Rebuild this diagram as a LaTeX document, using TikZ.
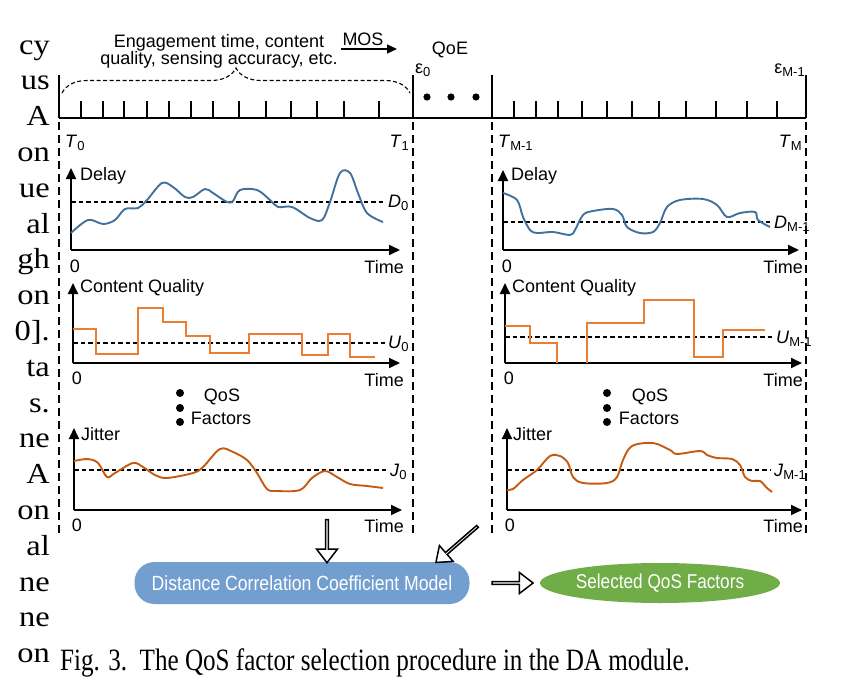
\documentclass[tikz,border=0pt]{standalone}
\usepackage{fontspec}
\setmainfont{Liberation Serif}
\newfontfamily\figfont{Liberation Sans}
\newfontfamily\narrowfont[FakeStretch=0.86]{Liberation Sans}
\newfontfamily\capfont[FakeStretch=0.81]{Liberation Serif}
\newfontfamily\bodyfont[FakeStretch=1.12]{Liberation Serif}
\usetikzlibrary{arrows.meta,positioning,shapes.arrows,shapes.geometric,decorations.pathreplacing}

\definecolor{delayblue}{RGB}{65,113,156}
\definecolor{cqorange}{RGB}{237,125,49}
\definecolor{jitorange}{RGB}{197,90,17}
\definecolor{boxblue}{RGB}{114,159,207}
\definecolor{selgreen}{RGB}{112,173,71}

\newcommand{\lsub}[1]{\raisebox{-0.35ex}{\fontsize{13}{13}\selectfont #1}}

\tikzset{
  lbl/.style={font=\figfont\fontsize{18}{20}\selectfont, inner sep=1pt},
  axis/.style={line width=1.8pt, -{Triangle[length=11pt,width=10pt]}},
  thres/.style={line width=1.8pt, dash pattern=on 4.5pt off 3pt},
  sep/.style={line width=1.8pt, dash pattern=on 8pt off 5pt},
  tick/.style={line width=1.6pt},
  bar/.style={line width=2.6pt},
  curve/.style={line width=1.9pt, smooth, tension=0.55},
  hollow/.style={single arrow, draw, line width=1.5pt, fill=white, inner sep=0pt,
    minimum width=21pt, single arrow head extend=5.5pt, single arrow tip angle=75,
    sloped, allow upside down},
}

\begin{document}
\begin{tikzpicture}[x=1pt,y=-1pt]
\useasboundingbox (0,0) rectangle (863,696);
	%Zeitachse oben
	\draw[bar] (59,118) -- (806,118);
	\foreach \x in {59,413,492,806} \draw[bar] (\x,75) -- (\x,118);
	\foreach \x in {81,103,124,147,169,191,213,239,266,291,317,344,379} \draw[tick] (\x,101) -- (\x,118);
	\foreach \x in {514,536,558,582,607,632,659,686,716,747,777} \draw[tick] (\x,101) -- (\x,118);
	\foreach \x in {427,451,476} \fill (\x,97) circle (3.6);
	\foreach \x in {59,413} \draw[sep] (\x,122) -- (\x,533);
	\foreach \x in {492,806} \draw[sep] (\x,122) -- (\x,537);
	\draw[line width=1.1pt, dash pattern=on 4pt off 2.5pt, decorate, decoration={brace,amplitude=25pt}] (62,93) -- (410,93);
	%Beschriftung oben
	\node[lbl, align=center] (eng) at (219,51) {Engagement time, content\\[-3pt]quality, sensing accuracy, etc.};
	\node[lbl] (mos) at (363,39) {MOS};
	\coordinate (mosend) at (397,49);
	\draw[line width=1.5pt, -{Triangle[length=10pt,width=9pt]}] (mos.south west |- mosend) -- (mosend);
	\node[lbl] (qoe) at (450,50) {QoE};
	\node[lbl, anchor=west] (eps0) at (414,70) {ε\lsub{0}};
	\node[lbl, anchor=east] (epsm) at (806,70) {ε\lsub{M-1}};
	\node[lbl, anchor=west] (t0) at (64,143) {\textit{T}\lsub{0}};
	\node[lbl, anchor=east] (t1) at (410,143) {\textit{T}\lsub{1}};
	\node[lbl, anchor=west] (tm1) at (497,143) {\textit{T}\lsub{M-1}};
	\node[lbl, anchor=east] (tm) at (803,143) {\textit{T}\lsub{M}};
	%linkes Fenster
	\coordinate (dl) at (71,250);
	\draw[axis] (dl) -- ++(0,-82);
	\draw[axis] (dl) -- ++(329,0);
	\draw[thres] (71,202) -- (386,202);
	\draw[curve, delayblue] plot coordinates {(71,233) (88,220) (103,224) (115,220) (125,209) (138,208) (147,200) (162,183) (173,187) (185,197) (193,197) (205,189) (213,193) (227,202) (233,201) (240,190) (257,190) (270,200) (278,207) (292,207) (310,218) (322,220) (330,202) (340,173) (350,173) (358,193) (367,213) (383,222)};
	\node[lbl, anchor=west] (dly-l) at (79,176) {Delay};
	\node[lbl] (dz-l) at (75,266) {0};
	\node[lbl, anchor=east] (dt-l) at (405,267) {Time};
	\node[lbl, anchor=west] (d0) at (387,203) {\textit{D}\lsub{0}};
	\coordinate (cl) at (73,363);
	\draw[axis] (cl) -- ++(0,-80);
	\draw[axis] (cl) -- ++(327,0);
	\draw[thres] (73,343) -- (386,343);
	\draw[line width=1.9pt, cqorange] (73,329) -- (96,329) -- (96,354) -- (138,354) -- (138,308) -- (163,308) -- (163,322) -- (186,322) -- (186,336) -- (210,336) -- (210,353) -- (249,353) -- (249,334) -- (302,334) -- (302,355) -- (328,355) -- (328,334) -- (350,334) -- (350,357) -- (375,357);
	\node[lbl, anchor=west] (cq-l) at (79,288) {Content Quality};
	\node[lbl] (cz-l) at (77,378) {0};
	\node[lbl, anchor=east] (ct-l) at (405,380) {Time};
	\node[lbl, anchor=west] (u0) at (387,344) {\textit{U}\lsub{0}};
	\foreach \y in {393,408,422} \fill (180,\y) circle (4);
	\node[lbl] (qos-l) at (222,397) {QoS};
	\node[lbl] (fac-l) at (221,418) {Factors};
	\coordinate (jl) at (74,510);
	\draw[axis] (jl) -- ++(0,-82);
	\draw[axis] (jl) -- ++(328,0);
	\draw[thres] (74,470) -- (388,470);
	\draw[curve, jitorange] plot coordinates {(74,461) (88,459) (98,463) (107,477) (115,473) (133,463) (143,467) (155,475) (167,478) (193,473) (203,467) (220,449) (233,452) (247,460) (257,473) (267,489) (277,491) (300,490) (312,478) (325,471) (337,477) (350,484) (367,486) (383,488)};
	\node[lbl, anchor=west] (jit-l) at (80,434) {Jitter};
	\node[lbl] (jz-l) at (77,525) {0};
	\node[lbl, anchor=east] (jt-l) at (405,526) {Time};
	\node[lbl, anchor=west] (j0) at (389,472) {\textit{J}\lsub{0}};
	%rechtes Fenster
	\coordinate (dr) at (503,250);
	\draw[axis] (dr) -- ++(0,-80);
	\draw[axis] (dr) -- ++(296,0);
	\draw[thres] (503,222) -- (771,222);
	\draw[curve, delayblue] plot coordinates {(503,193) (517,200) (523,217) (530,230) (537,233) (553,232) (570,235) (575,230) (583,215) (593,211) (613,209) (622,215) (627,227) (640,233) (653,232) (660,223) (667,207) (680,200) (703,199) (717,205) (727,217) (740,213) (755,212) (758,220) (770,227)};
	\node[lbl, anchor=west] (dly-r) at (510,176) {Delay};
	\node[lbl] (dz-r) at (507,266) {0};
	\node[lbl, anchor=east] (dt-r) at (804,267) {Time};
	\node[lbl, anchor=west] (dm) at (773,224) {\textit{D}\lsub{M-1}};
	\coordinate (cr) at (505,363);
	\draw[axis] (cr) -- ++(0,-80);
	\draw[axis] (cr) -- ++(297,0);
	\draw[thres] (505,337) -- (773,337);
	\draw[line width=1.9pt, cqorange] (505,326) -- (530,326) -- (530,343) -- (557,343) -- (557,363);
	\draw[line width=1.9pt, cqorange] (587,363) -- (587,323) -- (644,323) -- (644,300) -- (694,300) -- (694,357) -- (723,357) -- (723,330) -- (765,330);
	\node[lbl, anchor=west] (cq-r) at (511,288) {Content Quality};
	\node[lbl] (cz-r) at (509,378) {0};
	\node[lbl, anchor=east] (ct-r) at (804,380) {Time};
	\node[lbl, anchor=west] (um) at (775,339) {\textit{U}\lsub{M-1}};
	\foreach \y in {393,408,422} \fill (607,\y) circle (4);
	\node[lbl] (qos-r) at (650,397) {QoS};
	\node[lbl] (fac-r) at (649,418) {Factors};
	\coordinate (jr) at (507,510);
	\draw[axis] (jr) -- ++(0,-82);
	\draw[axis] (jr) -- ++(295,0);
	\draw[thres] (507,470) -- (771,470);
	\draw[curve, jitorange] plot coordinates {(507,490) (513,489) (523,480) (537,470) (550,456) (560,456) (568,463) (573,477) (583,483) (607,483) (617,477) (623,460) (632,446) (653,443) (670,450) (677,454) (700,451) (707,455) (717,458) (732,459) (740,465) (745,477) (752,481) (760,481) (767,488) (772,492)};
	\node[lbl, anchor=west] (jit-r) at (512,434) {Jitter};
	\node[lbl] (jz-r) at (510,525) {0};
	\node[lbl, anchor=east] (jt-r) at (804,526) {Time};
	\node[lbl, anchor=west] (jm) at (773,472) {\textit{J}\lsub{M-1}};
	%Modell unten
	\node[rectangle, rounded corners=20pt, fill=boxblue, minimum width=335pt, minimum height=42pt, text=white, font=\narrowfont\fontsize{20.5}{22}\selectfont] (dcc) at (302,583) {Distance Correlation Coefficient Model};
	\node[ellipse, fill=selgreen, minimum width=240pt, minimum height=40pt, inner sep=0pt, text=white, font=\narrowfont\fontsize{20}{22}\selectfont] (sel) at (660,583) {Selected QoS Factors};
	\coordinate (srcl) at (327,519);
	\coordinate (srcr) at (478,526);
	\path (srcl) -- (srcl |- dcc.north) node[midway, hollow, minimum height=43pt] {};
	\path (srcr) -- ([xshift=-33pt]dcc.north east) node[midway, hollow, minimum height=55pt] {};
	\path (dcc.east) -- (sel.west) node[pos=0.6, hollow, minimum height=41pt] {};
	%Text links und Bildunterschrift
	\foreach \w [count=\i] in {cy,us,A,on,ue,al,gh,on,{0].},ta,s.,ne,A,on,al,ne,ne,on}
		\node[anchor=base east, inner sep=0pt, font=\bodyfont\fontsize{29}{32}\selectfont] (frag\i) at (50,{45+(\i-1)*35.8+9}) {\w};
	\node[anchor=base west, inner sep=0pt, font=\capfont\fontsize{31}{34}\selectfont] (cap) at (60,670) {Fig. 3.\ \ The QoS factor selection procedure in the DA module.};
\end{tikzpicture}
\end{document}
